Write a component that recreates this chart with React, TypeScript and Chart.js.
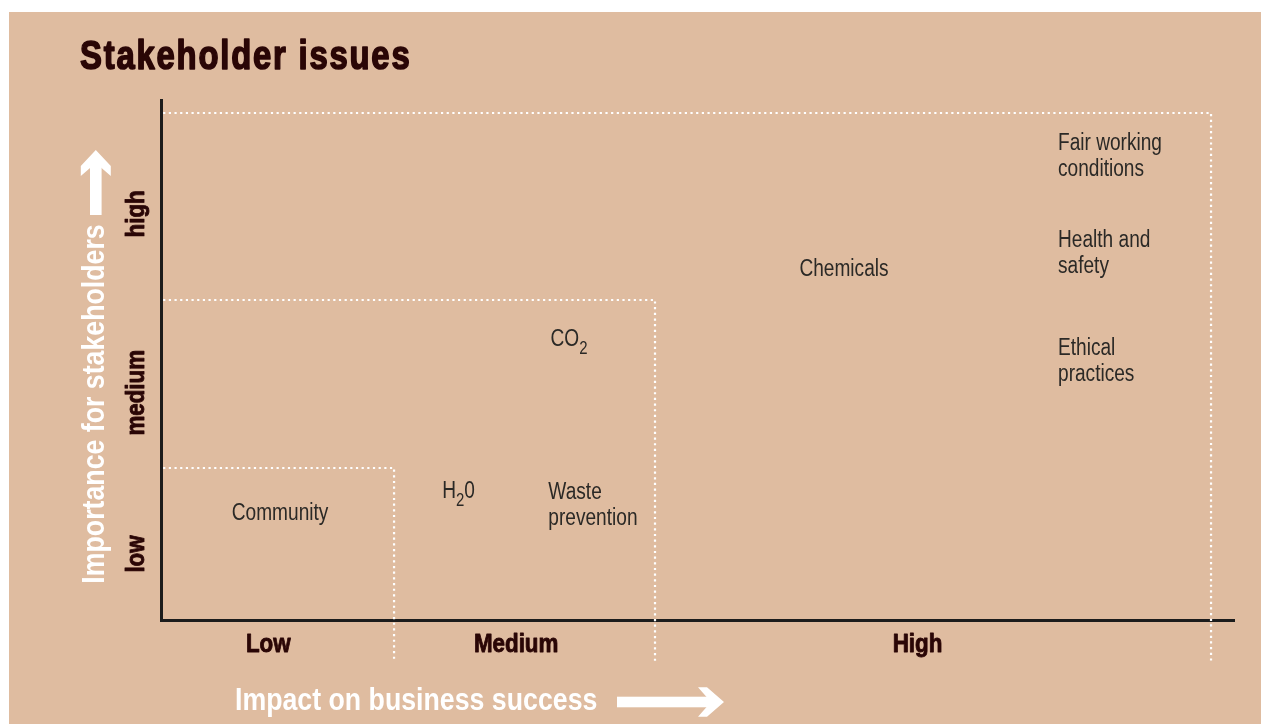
import { useEffect, useRef } from "react";
import { Chart, registerables } from "chart.js";

Chart.register(...registerables);

// Issues placed on the matrix: impact on business success (x) vs importance for stakeholders (y)
const issueNames = [
  "Community",
  "H₂0",
  "Waste\nprevention",
  "CO₂",
  "Chemicals",
  "Fair working\nconditions",
  "Health and\nsafety",
  "Ethical\npractices",
];
const impactScores = [6.6, 26.2, 36.1, 36.3, 59.5, 83.6, 83.6, 83.6];
const importanceScores = [20.8, 25.0, 22.4, 54.3, 67.7, 89.5, 70.8, 50.0];

// Level names and where they sit along each axis
const impactLevels = ["Low", "Medium", "High"];
const impactLevelCenters = [10.0, 33.1, 70.5];
const importanceLevels = ["low", "medium", "high"];
const importanceLevelCenters = [12.7, 43.7, 78.1];

// Upper bounds of the low / medium / high zones on both axes
const impactZoneLimits = [21.72, 46.04, 97.86];
const importanceZoneLimits = [29.23, 61.54, 97.5];
// Zone dividers run on below the x axis down to this value
const zoneDrop = -8;
const zoneStart = 0.2;

const TAN = "#dfbca0";
const INK = "#2a0606";
const LABEL_INK = "#2b2926";
const SANS = "'Liberation Sans', Arial, sans-serif";
// horizontal squeeze that gives the condensed look
const NARROW = 0.83;
const LABEL_SIZE = 23;
const LABEL_LINE = 26.3;
const SUB_SIZE = 18;
const SUB_DROP = 8;

type TextOpts = {
  font: string;
  sx?: number;
  align?: CanvasTextAlign;
  rotate?: number;
  spacing?: number;
  heavy?: number;
};

function drawText(ctx: CanvasRenderingContext2D, text: string, x: number, y: number, o: TextOpts) {
  ctx.save();
  ctx.translate(x, y);
  if (o.rotate) ctx.rotate(o.rotate);
  ctx.scale(o.sx ?? NARROW, 1);
  ctx.font = o.font;
  ctx.textAlign = o.align ?? "left";
  ctx.textBaseline = "alphabetic";
  (ctx as any).letterSpacing = `${o.spacing ?? 0}px`;
  ctx.fillText(text, 0, 0);
  if (o.heavy) {
    // thicken the strokes for a blacker weight
    ctx.strokeStyle = ctx.fillStyle;
    ctx.lineWidth = o.heavy;
    ctx.lineJoin = "round";
    ctx.strokeText(text, 0, 0);
  }
  ctx.restore();
}

function drawRich(ctx: CanvasRenderingContext2D, text: string, x: number, y: number) {
  // "₂" is drawn as a lowered, smaller "2"
  const runs: { t: string; sub: boolean }[] = [];
  for (const ch of text) {
    const sub = ch === "₂";
    const c = sub ? "2" : ch;
    const last = runs[runs.length - 1];
    if (last && last.sub === sub) last.t += c;
    else runs.push({ t: c, sub });
  }
  ctx.save();
  ctx.translate(x, y);
  ctx.scale(NARROW, 1);
  ctx.textAlign = "left";
  ctx.textBaseline = "alphabetic";
  let cx = 0;
  for (const r of runs) {
    ctx.font = `${r.sub ? SUB_SIZE : LABEL_SIZE}px ${SANS}`;
    ctx.fillText(r.t, cx, r.sub ? SUB_DROP : 0);
    cx += ctx.measureText(r.t).width;
  }
  ctx.restore();
}

const matrixText = {
  id: "matrixText",
  afterDatasetsDraw(chart: any) {
    const ctx: CanvasRenderingContext2D = chart.ctx;
    const xs = chart.scales.x;
    const ys = chart.scales.y;
    ctx.save();

    // issue names
    ctx.fillStyle = LABEL_INK;
    const meta = chart.getDatasetMeta(3);
    const cap = LABEL_SIZE * 0.716;
    issueNames.forEach((name, i) => {
      const pt = meta.data[i];
      const lines = name.split("\n");
      const first = pt.y - ((lines.length - 1) * LABEL_LINE) / 2;
      lines.forEach((ln, k) => {
        drawRich(ctx, ln, pt.x, first + k * LABEL_LINE + cap / 2);
      });
    });

    // level names along the x axis
    ctx.fillStyle = INK;
    const levelFont = `bold 26px ${SANS}`;
    impactLevels.forEach((lv, i) => {
      drawText(ctx, lv, xs.getPixelForValue(impactLevelCenters[i]), ys.bottom + 32, {
        font: levelFont,
        sx: 0.86,
        align: "center",
        heavy: 0.9,
      });
    });

    // level names along the y axis
    importanceLevels.forEach((lv, i) => {
      drawText(ctx, lv, xs.left - 17, ys.getPixelForValue(importanceLevelCenters[i]), {
        font: levelFont,
        sx: 0.86,
        align: "center",
        rotate: -Math.PI / 2,
        heavy: 0.9,
      });
    });
    ctx.restore();
  },
  afterDraw(chart: any) {
    const ctx: CanvasRenderingContext2D = chart.ctx;
    ctx.save();

    // heading
    ctx.fillStyle = INK;
    drawText(ctx, "Stakeholder issues", 71, 57, {
      font: `bold 40px ${SANS}`,
      sx: 0.82,
      spacing: 2.2,
      heavy: 1.6,
    });

    // axis titles in white
    ctx.fillStyle = "#ffffff";
    const axisFont = `bold 32px ${SANS}`;
    drawText(ctx, "Impact on business success", 226, 697.5, { font: axisFont, sx: 0.835 });
    drawText(ctx, "Importance for stakeholders", 95, 392, {
      font: axisFont,
      sx: 0.835,
      align: "center",
      rotate: -Math.PI / 2,
    });

    // arrow pointing right
    const ay = 690;
    ctx.fillRect(608, ay - 5.3, 97, 10.6);
    ctx.beginPath();
    ctx.moveTo(689, ay - 14.7);
    ctx.lineTo(698, ay - 14.7);
    ctx.lineTo(715, ay);
    ctx.lineTo(698, ay + 14.7);
    ctx.lineTo(689, ay + 14.7);
    ctx.lineTo(702, ay);
    ctx.closePath();
    ctx.fill();

    // arrow pointing up
    const ax = 86.8;
    ctx.fillRect(ax - 5.8, 150, 11.6, 53);
    ctx.beginPath();
    ctx.moveTo(ax, 138);
    ctx.lineTo(ax + 15, 154);
    ctx.lineTo(ax + 15, 164);
    ctx.lineTo(ax, 151);
    ctx.lineTo(ax - 15, 164);
    ctx.lineTo(ax - 15, 154);
    ctx.closePath();
    ctx.fill();

    ctx.restore();
  },
};

function zoneOutline(i: number) {
  return [
    { x: zoneStart, y: importanceZoneLimits[i] },
    { x: impactZoneLimits[i], y: importanceZoneLimits[i] },
    { x: impactZoneLimits[i], y: zoneDrop },
  ];
}

export default function App() {
  const ref = useRef<HTMLCanvasElement | null>(null);

  useEffect(() => {
    if (!ref.current) return;
    const dotted = {
      showLine: true,
      borderColor: "#ffffff",
      borderWidth: 2.2,
      borderDash: [2.2, 3.47],
      borderCapStyle: "butt",
      pointRadius: 0,
      fill: false,
      tension: 0,
      clip: false,
    };
    const chart = new Chart(ref.current, {
      type: "scatter",
      data: {
        datasets: [
          { ...dotted, label: "low zone", data: zoneOutline(0) },
          { ...dotted, label: "medium zone", data: zoneOutline(1) },
          { ...dotted, label: "high zone", data: zoneOutline(2) },
          {
            label: "issues",
            data: issueNames.map((_, i) => ({ x: impactScores[i], y: importanceScores[i] })),
            pointRadius: 0,
            pointHoverRadius: 0,
            showLine: false,
          },
        ],
      } as any,
      options: {
        animation: false,
        responsive: false,
        maintainAspectRatio: false,
        devicePixelRatio: 1,
        layout: { padding: { left: 152, top: 88, right: 27, bottom: 104 } },
        plugins: { legend: { display: false }, tooltip: { enabled: false }, title: { display: false } },
        events: [],
        scales: {
          x: {
            type: "linear",
            min: 0,
            max: 100,
            grid: { display: false, drawTicks: false },
            ticks: { display: false },
            border: { display: true, color: "#1c1c1c", width: 3 },
          },
          y: {
            type: "linear",
            min: 0,
            max: 100,
            grid: { display: false, drawTicks: false },
            ticks: { display: false },
            border: { display: true, color: "#1c1c1c", width: 3 },
          },
        },
      } as any,
      plugins: [matrixText],
    });
    return () => chart.destroy();
  }, []);

  return (
    <div
      style={{
        position: "absolute",
        left: 9,
        top: 12,
        width: 1252,
        height: 712,
        background: TAN,
        overflow: "hidden",
      }}
    >
      <canvas ref={ref} width={1252} height={712} style={{ display: "block" }} />
    </div>
  );
}
